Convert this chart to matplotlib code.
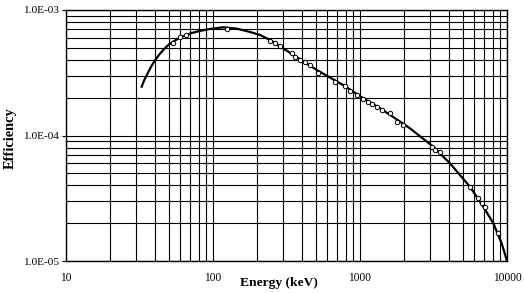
import numpy as np
import matplotlib
matplotlib.use("Agg")
import matplotlib.pyplot as plt
from matplotlib.ticker import LogLocator, FuncFormatter, NullFormatter

# fitted efficiency curve
curve_energy = [32.7, 34, 36, 38, 40, 43, 46.6, 50, 55, 60, 70, 80, 95, 117.5, 145,
                178.6, 209, 244, 352, 507, 769, 1052, 1367, 1600, 2188, 3152, 4093,
                5598, 6898, 8070, 9204, 10000]
curve_eff = [2.45e-4, 2.75e-4, 3.15e-4, 3.55e-4, 3.92e-4, 4.40e-4, 4.90e-4, 5.30e-4,
             5.70e-4, 6.05e-4, 6.50e-4, 6.78e-4, 7.05e-4, 7.28e-4, 7.10e-4, 6.68e-4,
             6.32e-4, 5.77e-4, 4.38e-4, 3.33e-4, 2.52e-4, 1.98e-4, 1.65e-4, 1.46e-4,
             1.14e-4, 8.14e-5, 6.0e-5, 3.91e-5, 2.71e-5, 2.0e-5, 1.38e-5, 1.0e-5]

# measured points
meas_energy = [53.5, 59.7, 65.5, 124, 244, 264, 286, 343, 361, 391, 423, 457, 520,
               676, 791, 855, 950, 1052, 1138, 1201, 1300, 1406, 1600, 1778, 1974,
               3076, 3236, 3499, 5598, 6383, 6730, 7080, 8730]
meas_eff = [5.45e-4, 6.09e-4, 6.33e-4, 7.02e-4, 5.69e-4, 5.48e-4, 5.17e-4, 4.57e-4,
            4.25e-4, 4.0e-4, 3.88e-4, 3.65e-4, 3.13e-4, 2.69e-4, 2.48e-4, 2.27e-4,
            2.10e-4, 1.94e-4, 1.86e-4, 1.78e-4, 1.70e-4, 1.60e-4, 1.50e-4, 1.29e-4,
            1.21e-4, 8.15e-5, 7.66e-5, 7.42e-5, 3.91e-5, 3.16e-5, 2.88e-5, 2.71e-5,
            1.66e-5]

plt.rcParams["font.family"] = ["Liberation Serif", "DejaVu Serif"]

fig = plt.figure(figsize=(5.24, 2.93), dpi=100)
ax = fig.add_axes([0.126, 0.109, 0.8416, 0.857])

ax.set_xscale("log")
ax.set_yscale("log")
ax.set_xlim(10, 10000)
ax.set_ylim(1e-5, 1e-3)

ax.xaxis.set_major_locator(LogLocator(base=10, numticks=10))
ax.xaxis.set_minor_locator(LogLocator(base=10, subs=np.arange(2, 10), numticks=10))
ax.yaxis.set_major_locator(LogLocator(base=10, numticks=10))
ax.yaxis.set_minor_locator(LogLocator(base=10, subs=np.arange(2, 10), numticks=10))
ax.xaxis.set_major_formatter(FuncFormatter(lambda v, p: "%d" % round(v)))
ax.yaxis.set_major_formatter(FuncFormatter(lambda v, p: "%.1E" % v))
ax.xaxis.set_minor_formatter(NullFormatter())
ax.yaxis.set_minor_formatter(NullFormatter())

ax.grid(True, which="both", color="black", linewidth=0.8)
ax.set_axisbelow(True)

ax.plot(curve_energy, curve_eff, color="black", linewidth=1.6, zorder=3)
ax.plot(meas_energy, meas_eff, linestyle="none", marker="o", markersize=3.2,
        markerfacecolor="white", markeredgecolor="black", markeredgewidth=0.7, zorder=4)

for s in ax.spines.values():
    s.set_color("black")
    s.set_linewidth(1.0)

ax.tick_params(axis="x", which="both", length=0, pad=8, labelsize=8.3)
ax.tick_params(axis="y", which="major", length=3, pad=2, labelsize=8.2, direction="out")
ax.tick_params(axis="y", which="minor", length=0)

ax.set_xlabel("Energy (keV)", fontsize=9.7, fontweight="bold")
ax.set_ylabel("Efficiency", fontsize=10.4, fontweight="bold")
ax.xaxis.set_label_coords(0.482, -0.064)
ax.yaxis.set_label_coords(-0.111, 0.49)

fig.savefig("out.png", dpi=100)
